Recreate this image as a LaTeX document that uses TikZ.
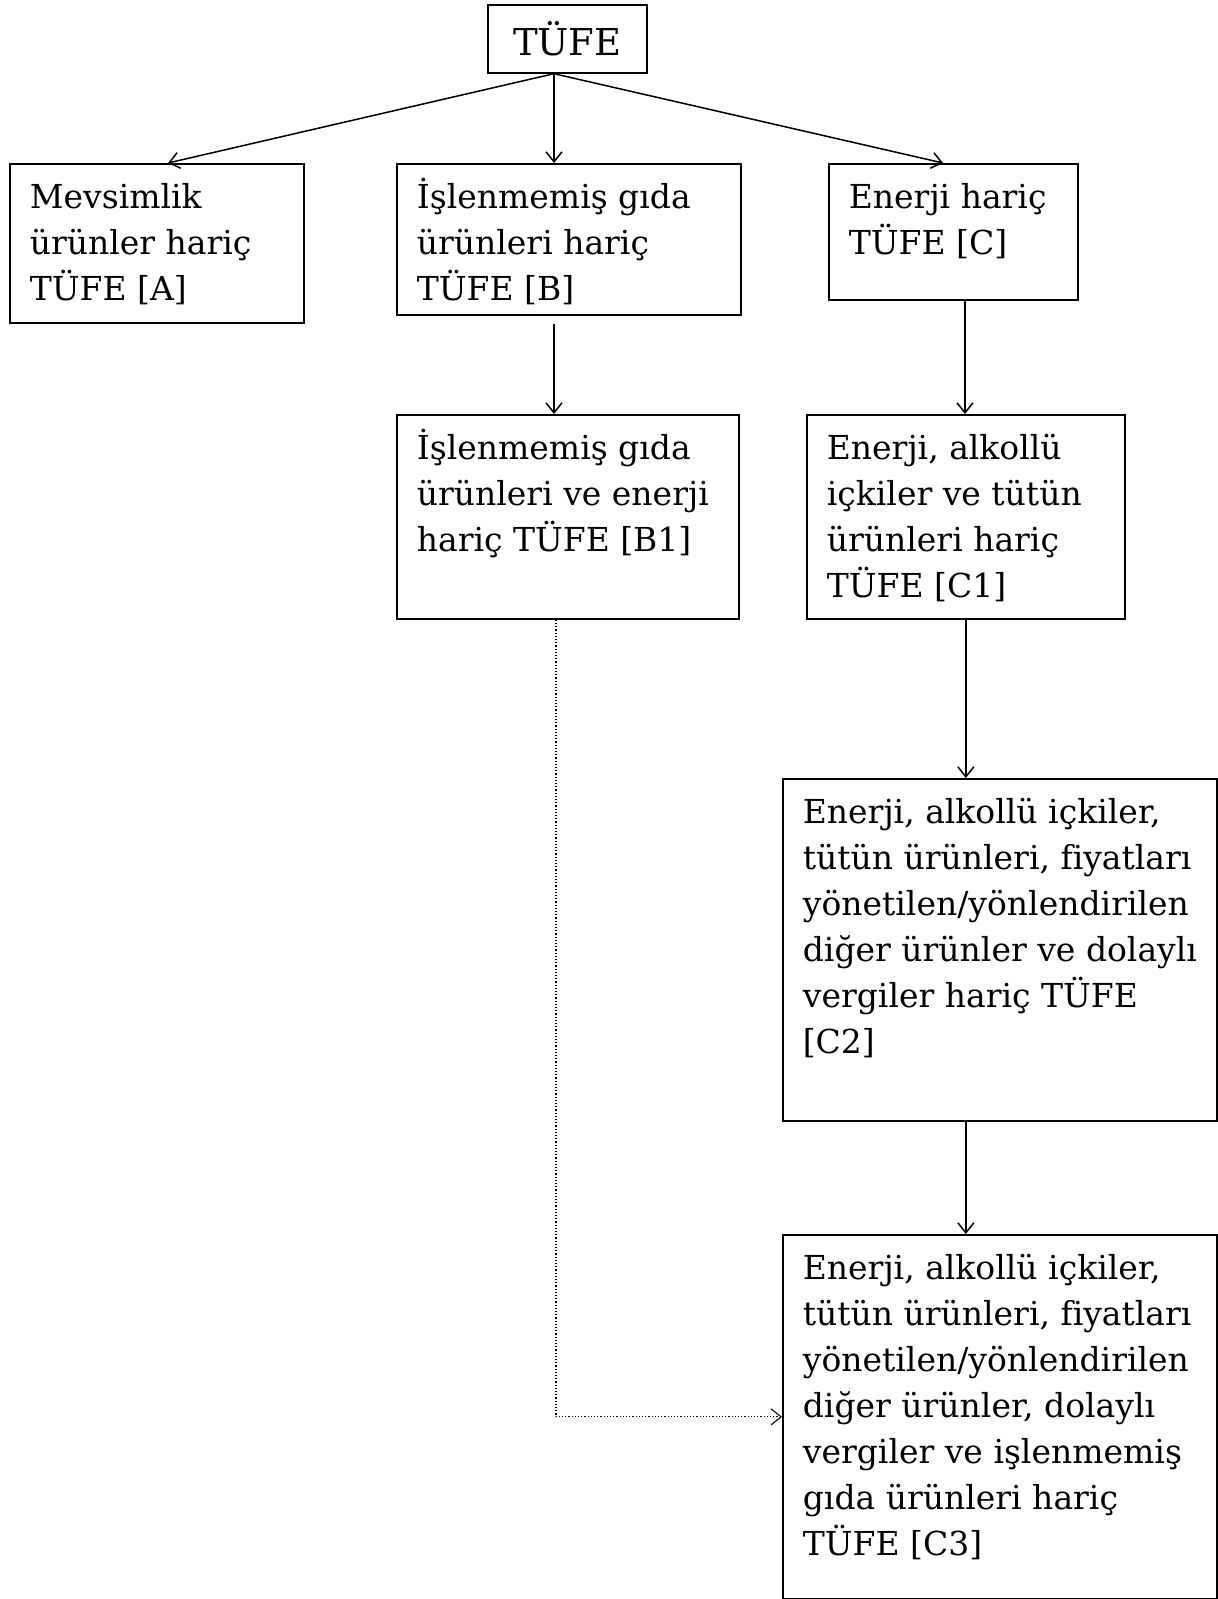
\documentclass[tikz,border=0pt]{standalone}
\usepackage{fontspec}
\setmainfont[Ligatures=NoCommon]{DejaVu Serif}
\usetikzlibrary{positioning, calc, arrows.meta}
\newcommand{\cell}[3]{\parbox[t][#2][t]{#1}{\raggedright\leftskip=10pt\rule{0pt}{22.5pt}#3}}
\begin{document}
\begin{tikzpicture}[x=0.5pt,y=-0.5pt]\tikzset{every node/.style={font={\fontsize{16.5pt}{23pt}\selectfont}}, box/.style={draw, line width=0.85pt, inner sep=0pt, anchor=north west}, ar/.style={-{Straight Barb[length=5pt,width=8pt]}, line width=0.75pt}, dotar/.style={ar, line width=0.55pt, dash pattern=on 0.6pt off 1pt}}
	\useasboundingbox (0,0) rectangle (1218,1599);
	\node[box, minimum width=79.5pt, minimum height=34pt, font={\fontsize{18.5pt}{23pt}\selectfont}] (tufe) at (487,4) {TÜFE};
	\node[box] (a) at (9,163) {\cell{147pt}{79.5pt}{Mevsimlik\\ ürünler hariç\\ TÜFE [A]}};
	\node[box] (b) at (396,163) {\cell{172pt}{75.5pt}{İşlenmemiş gıda\\ ürünleri hariç\\ TÜFE [B]}};
	\node[box] (c) at (828,163) {\cell{124.5pt}{68pt}{Enerji hariç\\ TÜFE [C]}};
	\node[box] (b1) at (396,414) {\cell{171pt}{102pt}{İşlenmemiş gıda\\ ürünleri ve enerji\\ hariç TÜFE [B1]}};
	\node[box] (c1) at (806,414) {\cell{159pt}{102pt}{Enerji, alkollü\\ içkiler ve tütün\\ ürünleri hariç\\ TÜFE [C1]}};
	\node[box] (c2) at (782,778) {\cell{217pt}{171pt}{Enerji, alkollü içkiler,\\ tütün ürünleri, fiyatları\\ yönetilen/yönlendirilen\\ diğer ürünler ve dolaylı\\ vergiler hariç TÜFE\\ {[C2]}}};
	\node[box] (c3) at (782,1234) {\cell{217pt}{182pt}{Enerji, alkollü içkiler,\\ tütün ürünleri, fiyatları\\ yönetilen/yönlendirilen\\ diğer ürünler, dolaylı\\ vergiler ve işlenmemiş\\ gıda ürünleri hariç\\ TÜFE [C3]}};
	\coordinate (tufe-out) at ($(tufe.south west)+(67,0)$);
	\coordinate (a-in) at ($(a.north west)+(159,0)$);
	\coordinate (b-in) at ($(b.north west)+(158,0)$);
	\coordinate (c-in) at ($(c.north west)+(115,0)$);
	\coordinate (b-out) at ($(b.south west)+(158,8)$);
	\coordinate (c-out) at ($(c.south west)+(137,0)$);
	\coordinate (b1-out) at ($(b1.south west)+(160,0)$);
	\draw[ar] (tufe-out) -- (a-in);
	\draw[ar] (tufe-out) -- (b-in);
	\draw[ar] (tufe-out) -- (c-in);
	\draw[ar] (b-out) -- (b-out |- b1.north);
	\draw[ar] (c-out) -- (c-out |- c1.north);
	\draw[ar] (c1.south) -- (c1.south |- c2.north);
	\draw[ar] (c1.south |- c2.south) -- (c1.south |- c3.north);
	\draw[dotar] (b1-out) |- (c3.west);
\end{tikzpicture}
\end{document}
